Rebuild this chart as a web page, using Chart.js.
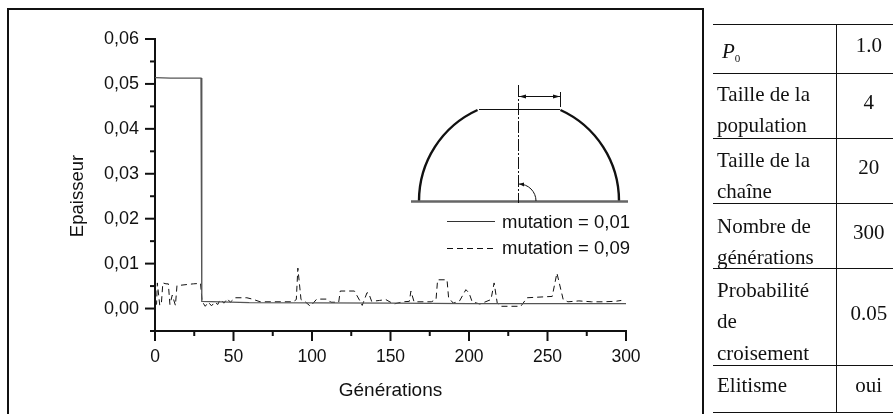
<!DOCTYPE html>
<html><head><meta charset="utf-8">
<script src="https://cdn.jsdelivr.net/npm/chart.js@4/dist/chart.umd.min.js"></script>
<style>
html,body{margin:0;padding:0;background:#fff;width:893px;height:414px;overflow:hidden}
#wrap{position:absolute;left:0;top:0;width:893px;height:414px}
canvas{position:absolute;left:0;top:0}
#frame{position:absolute;left:7px;top:8px;width:693px;height:406px;border:2px solid #111;border-bottom:none;pointer-events:none}
table{position:absolute;left:713px;top:24px;width:180px;border-collapse:collapse;table-layout:fixed;font-family:"Liberation Serif",serif;font-size:21px;line-height:31.5px;color:#111}
td{border-top:1px solid #111;border-bottom:1px solid #111;padding:0 0 0 4px;vertical-align:middle;white-space:nowrap}
td.v{border-left:1px solid #111;text-align:center;padding:0 0 0 8px}
td span{position:relative;display:inline-block}
td.v span{top:-3px}
sub{font-size:11px;font-style:normal;line-height:0;vertical-align:-4px}
</style></head><body>
<div id="wrap"><canvas id="c" width="893" height="414"></canvas><div id="frame"></div>
<table id="t"><colgroup><col style="width:123px"><col style="width:57px"></colgroup>
<tr style="height:49px"><td style="padding-left:9px"><span style="top:3px"><i>P</i><sub>0</sub></span></td><td class="v"><span>1.0</span></td></tr>
<tr style="height:65px"><td><span style="top:4px">Taille de la<br>population</span></td><td class="v"><span>4</span></td></tr>
<tr style="height:65px"><td><span style="top:5px">Taille de la<br>chaîne</span></td><td class="v"><span>20</span></td></tr>
<tr style="height:65px"><td><span style="top:6px">Nombre de<br>générations</span></td><td class="v"><span>300</span></td></tr>
<tr style="height:97px"><td><span style="top:5px">Probabilité<br>de<br>croisement</span></td><td class="v"><span>0.05</span></td></tr>
<tr style="height:47px"><td><span style="top:-3px">Elitisme</span></td><td class="v"><span>oui</span></td></tr>
</table></div>
<script>
const seriesLabels = ["mutation = 0,01", "mutation = 0,09"];
const axisTitleX = "Générations";
const axisTitleY = "Epaisseur";
const mutation001 = [[0,0.0514],[10,0.0513],[29.3,0.0513],[29.8,0.0016],[60,0.0013],[150,0.0012],[200,0.0011],[300,0.0011]];
const mutation009 = [[0,0.0006],[1,0.0010],[1.5,0.0057],[3,0.0008],[4,0.0008],[5,0.0057],[7,0.0055],[8.5,0.0055],[9.5,0.0009],[11,0.0030],[13,0.0007],[14,0.0051],[24.5,0.0055],[29,0.0056],[30,0.0016],[32,0.0005],[34,0.0014],[36,0.0006],[38,0.0014],[40,0.0009],[41.5,0.0020],[44,0.0012],[46,0.0022],[48,0.0014],[51,0.0024],[58.5,0.0024],[62,0.0021],[67,0.0015],[88,0.0015],[90,0.0020],[91,0.0090],[93,0.0020],[96,0.0014],[99,0.0005],[103,0.0021],[110,0.0021],[112,0.0014],[117,0.0014],[118,0.0039],[127,0.0039],[131,0.0014],[132,0.0007],[135,0.0035],[136,0.0035],[138,0.0016],[143,0.0018],[147,0.0020],[152,0.0010],[158,0.0015],[162,0.0016],[163,0.0039],[165,0.0015],[176,0.0015],[179,0.0020],[180,0.0064],[186,0.0064],[187,0.0024],[190,0.0012],[194,0.0017],[198,0.0042],[200,0.0035],[202,0.0015],[207,0.0010],[214,0.0020],[216,0.0057],[218,0.0012],[220,0.0005],[233,0.0005],[237,0.0024],[253,0.0027],[256,0.0079],[260,0.0020],[263,0.0015],[270,0.0017],[278,0.0015],[285,0.0015],[293,0.0016],[297,0.0018]];
const xTicksMajor = 50, xTicksMinor = 25, xMax = 300;
const yTicksMajor = 0.01, yTicksMinor = 0.005, yMin = -0.005, yMax = 0.06;
const toPts = a => a.map(p => ({x:p[0], y:p[1]}));
const isMult = (v,s) => Math.abs(v/s - Math.round(v/s)) < 1e-6;
const sans = '"Liberation Sans", Arial, sans-serif';

const axisTicks = {
  id:'axisTicks',
  afterDraw(ch){
    const c = ch.ctx, x = ch.scales.x, y = ch.scales.y;
    c.save(); c.strokeStyle='#111'; c.lineWidth=2;
    x.ticks.forEach(t=>{const p=x.getPixelForValue(t.value), l=isMult(t.value,xTicksMajor)?10:5;
      c.beginPath();c.moveTo(p,y.bottom);c.lineTo(p,y.bottom+l);c.stroke();});
    y.ticks.forEach(t=>{const p=y.getPixelForValue(t.value), l=(isMult(t.value,yTicksMajor))?10:5;
      c.beginPath();c.moveTo(x.left,p);c.lineTo(x.left-l,p);c.stroke();});
    c.fillStyle='#111';c.font='18.5px '+sans;c.textAlign='center';c.textBaseline='middle';
    c.translate(78,196);c.rotate(-Math.PI/2);c.fillText(axisTitleY,0,0);
    c.restore();
  }
};
const inset = {
  id:'inset',
  afterDraw(ch){
    const c = ch.ctx; c.save();
    const cx=519, by=201, R=100;
    const a=Math.asin(91/R);
    c.strokeStyle='#111'; c.lineWidth=2.4;
    c.beginPath();c.arc(cx,by,R,Math.PI,Math.PI+a);c.stroke();
    c.beginPath();c.arc(cx,by,R,-a,0);c.stroke();
    c.lineWidth=1;
    c.beginPath();c.moveTo(479,109.5);c.lineTo(560,109.5);c.stroke();
    c.strokeStyle='#666';c.lineWidth=2.5;
    c.beginPath();c.moveTo(411,201.5);c.lineTo(628,201.5);c.stroke();
    c.strokeStyle='#111';c.lineWidth=1;
    c.setLineDash([12,2,2,2]);
    c.beginPath();c.moveTo(518.5,85);c.lineTo(518.5,203);c.stroke();
    c.setLineDash([]);
    c.beginPath();c.moveTo(560.5,92);c.lineTo(560.5,107);c.stroke();
    c.beginPath();c.moveTo(519,96.5);c.lineTo(560,96.5);c.stroke();
    c.fillStyle='#111';
    c.beginPath();c.moveTo(519,96.5);c.lineTo(526,94.5);c.lineTo(526,98.5);c.fill();
    c.beginPath();c.moveTo(560,96.5);c.lineTo(553,94.5);c.lineTo(553,98.5);c.fill();
    c.beginPath();c.arc(519,201,17,-Math.PI/2,0);c.stroke();
    c.beginPath();c.moveTo(519,184);c.lineTo(524,182.5);c.lineTo(524,186.5);c.fill();
    c.lineWidth=1;c.strokeStyle='#333';
    c.beginPath();c.moveTo(447,221.5);c.lineTo(495,221.5);c.stroke();
    c.strokeStyle='#111';c.setLineDash([6,4]);
    c.beginPath();c.moveTo(447,248.5);c.lineTo(496,248.5);c.stroke();
    c.setLineDash([]);
    c.fillStyle='#111';c.font='18.5px '+sans;c.textBaseline='middle';c.textAlign='left';
    c.fillText(seriesLabels[0],502,223);
    c.fillText(seriesLabels[1],502,249);
    c.restore();
  }
};
new Chart(document.getElementById('c'),{
  type:'line',
  data:{datasets:[
    {label:seriesLabels[0],data:toPts(mutation001),borderColor:'#555',borderWidth:1.3,pointRadius:0,tension:0},
    {label:seriesLabels[1],data:toPts(mutation009),borderColor:'#111',borderWidth:1,borderDash:[6,4],pointRadius:0,tension:0}
  ]},
  options:{
    responsive:false,animation:false,
    layout:{padding:{left:0,right:267,top:39,bottom:0}},
    plugins:{legend:{display:false},tooltip:{enabled:false}},
    scales:{
      x:{type:'linear',min:0,max:xMax,
        afterFit:s=>{s.height=83;},
        grid:{display:false,drawTicks:false},
        border:{display:true,color:'#111',width:2},
        ticks:{stepSize:xTicksMinor,padding:16,maxRotation:0,autoSkip:false,color:'#111',font:{family:sans,size:17.5},
          callback:v=>isMult(v,xTicksMajor)?String(v):''},
        title:{display:true,text:axisTitleX,color:'#111',font:{family:sans,size:19},padding:{top:0,bottom:12}}
      },
      y:{type:'linear',min:yMin,max:yMax,
        afterFit:s=>{s.width=155;},
        grid:{display:false,drawTicks:false},
        border:{display:true,color:'#111',width:2},
        ticks:{stepSize:yTicksMinor,padding:16,autoSkip:false,color:'#111',font:{family:sans,size:18},
          callback:v=>(v>-1e-9&&isMult(v,yTicksMajor))?v.toFixed(2).replace('.',','):''}
      }
    }
  },
  plugins:[axisTicks,inset]
});
</script></body></html>
